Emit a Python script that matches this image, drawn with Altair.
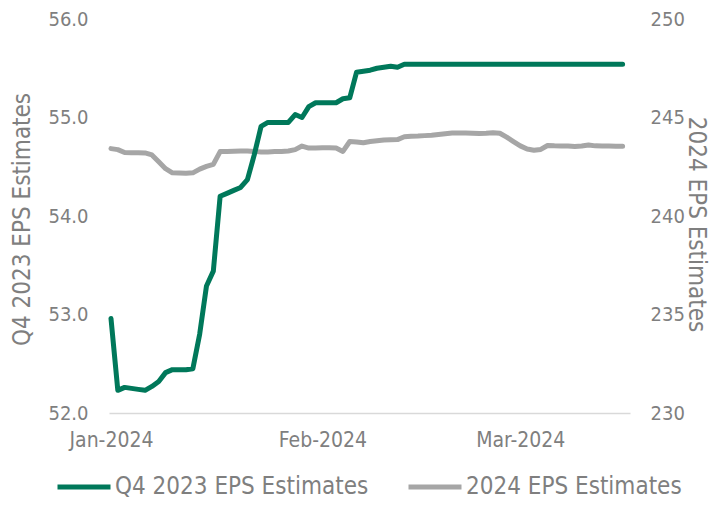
import altair as alt
import pandas as pd

dates = pd.date_range("2024-01-01", "2024-03-16", freq="D").strftime("%Y-%m-%dT00:00:00").tolist()

q4_2023 = [52.96, 52.23, 52.26, 52.25, 52.24, 52.23, 52.27, 52.32, 52.41, 52.44,
           52.44, 52.44, 52.45, 52.80, 53.29, 53.44, 54.20, 54.23, 54.26, 54.29,
           54.37, 54.62, 54.91, 54.95, 54.95, 54.95, 54.95, 55.03, 55.00, 55.11,
           55.15, 55.15, 55.15, 55.15, 55.19, 55.20, 55.46, 55.47, 55.48, 55.50,
           55.51, 55.52, 55.51] + [55.54] * 33

fy_2024 = [243.42, 243.37, 243.22, 243.21, 243.21, 243.20, 243.10, 242.75, 242.40, 242.19,
           242.18, 242.17, 242.19, 242.38, 242.52, 242.62, 243.27, 243.28, 243.29, 243.30,
           243.30, 243.28, 243.25, 243.25, 243.27, 243.28, 243.30, 243.37, 243.55, 243.45,
           243.45, 243.46, 243.46, 243.45, 243.28, 243.78, 243.76, 243.72, 243.78, 243.82,
           243.86, 243.87, 243.88, 244.02, 244.05, 244.06, 244.08, 244.10, 244.14, 244.18,
           244.21, 244.21, 244.21, 244.20, 244.19, 244.20, 244.23, 244.20, 244.00, 243.78,
           243.56, 243.40, 243.34, 243.38, 243.58, 243.56, 243.55, 243.55, 243.53, 243.55,
           243.60, 243.56, 243.55, 243.55, 243.54, 243.54]

series_names = ["Q4 2023 EPS Estimates", "2024 EPS Estimates"]
series_colors = ["#00785A", "#A6A6A6"]
left_ticks = [52, 53, 54, 55, 56]
right_ticks = [230, 235, 240, 245, 250]

df = pd.concat([
    pd.DataFrame({"date": dates, "value": q4_2023, "series": series_names[0]}),
    pd.DataFrame({"date": dates, "value": fy_2024, "series": series_names[1]}),
])

FONT = "Liberation Sans Narrow, DejaVu Sans Condensed, Roboto Condensed, Roboto, sans-serif"
GRAY = "#7F7F7F"
BIG = 24

x = alt.X(
    "date:T",
    scale=alt.Scale(domain=[alt.DateTime(year=2023, month=12, date=31, hours=17),
                            alt.DateTime(year=2024, month=3, date=17, hours=2)]),
    axis=alt.Axis(
        title=None, format="%b-%Y", grid=False, ticks=False,
        values=[alt.DateTime(year=2024, month=1, date=1),
                alt.DateTime(year=2024, month=2, date=1),
                alt.DateTime(year=2024, month=3, date=1)],
        domainColor="#D9D9D9", domainWidth=1.5, labelPadding=16,
        labelFontSize=21, labelColor=GRAY, labelFont=FONT,
    ),
)

color = alt.Color(
    "series:N",
    scale=alt.Scale(domain=series_names, range=series_colors),
    legend=alt.Legend(
        title=None, orient="none", direction="horizontal",
        legendX=-54, legendY=439,
        symbolType="stroke", symbolSize=2809, symbolStrokeWidth=5,
        labelFontSize=BIG, labelColor=GRAY, labelFont=FONT, labelLimit=500,
        labelOffset=2, columnPadding=29,
    ),
)

left = alt.Chart(df).transform_filter(
    alt.datum.series == series_names[0]
).mark_line(strokeWidth=5, strokeCap="round", strokeJoin="round").encode(
    x=x,
    y=alt.Y("value:Q",
            scale=alt.Scale(domain=[52, 56], nice=False, zero=False),
            axis=alt.Axis(title="Q4 2023 EPS Estimates", values=left_ticks, format=".1f",
                          grid=False, ticks=False, domain=False, labelPadding=21,
                          labelFontSize=20, labelColor=GRAY, labelFont=FONT,
                          titleFontSize=BIG, titleColor=GRAY, titleFont=FONT,
                          titleFontWeight="normal", titleX=-87, titleY=200,
                          titleAngle=270, titleBaseline="middle", titleAlign="center")),
    color=color,
)

right = alt.Chart(df).transform_filter(
    alt.datum.series == series_names[1]
).mark_line(strokeWidth=5, strokeCap="round", strokeJoin="round").encode(
    x=x,
    y=alt.Y("value:Q",
            scale=alt.Scale(domain=[230, 250], nice=False, zero=False),
            axis=alt.Axis(title="2024 EPS Estimates", orient="right", values=right_ticks,
                          format="d", grid=False, ticks=False, domain=False, labelPadding=20,
                          labelFontSize=20, labelColor=GRAY, labelFont=FONT,
                          titleFontSize=BIG, titleColor=GRAY, titleFont=FONT,
                          titleFontWeight="normal", titleX=65, titleY=205,
                          titleAngle=90, titleBaseline="middle", titleAlign="center")),
    color=color,
)

chart = alt.layer(right, left).resolve_scale(y="independent").properties(
    width=521, height=394,
    background="white",
    autosize=alt.AutoSizeParams(type="none"),
    padding={"left": 101, "top": 11, "right": 79, "bottom": 86},
).configure_view(stroke=None)

chart.save("out.html", embed_options={"renderer": "svg", "actions": False})
